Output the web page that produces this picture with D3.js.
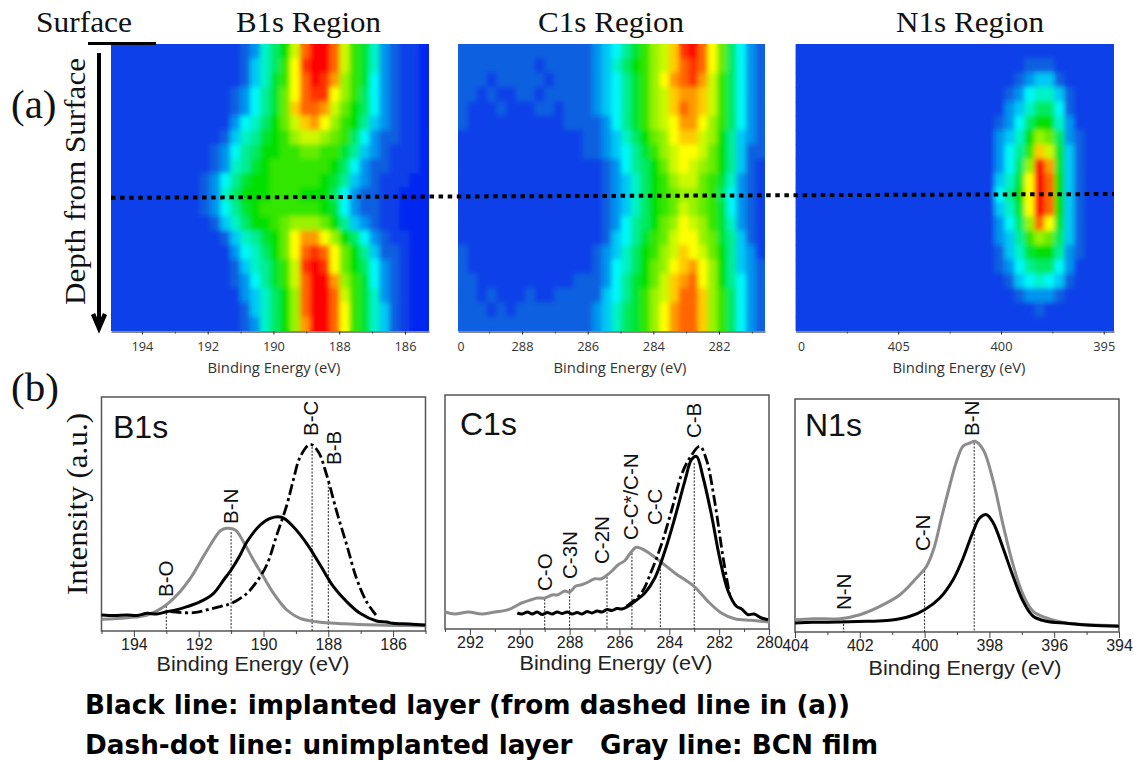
<!DOCTYPE html>
<html><head><meta charset="utf-8">
<style>html,body{margin:0;padding:0;background:#fff}svg{display:block}text{white-space:pre}</style>
<script src="https://cdn.jsdelivr.net/npm/d3@7"></script></head>
<body><svg id="c" width="1134" height="761"></svg>
<script>
// ---------- heatmap values (0 blue, 5 cyan, 10 green, 15 yellow, 20 red); rows run top to bottom
const heatB1s = [
[1,1,1,1,1,1,1,1,1,1,1,1,1,2,3,6,8,10,14,18,20,20,18,14,11,9,6,3,2,1,1,0],
[1,1,1,1,1,1,1,1,1,1,1,1,1,2,4,6,8,11,15,19,20,20,18,14,11,9,6,3,2,1,1,0],
[1,1,1,1,1,1,1,1,1,1,1,1,1,2,4,6,9,11,15,18,20,19,17,13,11,9,5,3,2,1,1,0],
[1,1,1,1,1,1,1,1,1,1,1,1,2,3,5,7,9,12,15,18,19,19,15,13,11,8,5,3,2,1,1,0],
[1,1,1,1,1,1,1,1,1,1,1,1,2,3,5,7,9,12,16,18,18,17,14,12,10,8,5,3,2,1,1,0],
[1,1,1,1,1,1,1,1,1,1,1,1,3,5,6,8,10,12,14,16,17,15,13,11,10,7,4,3,2,1,1,0],
[1,1,1,1,1,1,1,1,1,1,1,2,4,6,7,9,10,11,13,14,14,13,12,11,8,5,3,2,2,1,1,0],
[1,1,1,1,1,1,1,1,1,1,2,3,5,7,8,10,10,11,11,12,12,11,11,9,7,4,3,2,1,1,1,0],
[1,1,1,1,1,1,1,1,1,1,2,3,6,7,9,10,11,11,11,11,11,11,10,8,5,3,2,2,1,1,1,0],
[1,1,1,1,1,1,1,1,1,2,3,5,7,9,10,10,11,11,11,11,11,10,9,7,4,3,2,1,1,1,0,0],
[1,1,1,1,1,1,1,1,1,2,3,6,8,10,10,10,11,11,11,10,10,10,8,5,3,2,2,1,1,0,0,0],
[1,1,1,1,1,1,1,1,1,2,3,5,7,9,10,11,11,11,11,11,11,10,9,5,3,2,2,1,1,0,0,0],
[1,1,1,1,1,1,1,1,1,1,2,4,6,8,10,10,11,12,13,13,13,12,10,7,4,3,2,1,1,0,0,0],
[1,1,1,1,1,1,1,1,1,1,1,2,4,6,7,9,10,12,15,17,17,15,13,10,8,5,3,2,1,1,0,0],
[1,1,1,1,1,1,1,1,1,1,1,1,3,5,6,8,10,12,15,18,19,18,15,12,10,7,4,2,2,1,0,0],
[1,1,1,1,1,1,1,1,1,1,1,1,2,4,6,7,9,11,14,19,20,19,15,12,10,8,5,3,2,1,0,0],
[1,1,1,1,1,1,1,1,1,1,1,1,2,3,5,7,9,11,14,18,20,20,17,13,11,9,5,3,2,1,0,0],
[1,1,1,1,1,1,1,1,1,1,1,1,1,3,4,6,8,10,13,18,20,20,18,14,11,9,6,3,2,1,0,0],
[1,1,1,1,1,1,1,1,1,1,1,1,1,2,4,6,8,10,13,18,20,20,18,15,11,9,6,4,2,1,0,0],
[1,1,1,1,1,1,1,1,1,1,1,1,1,2,3,6,8,10,13,17,20,20,18,15,11,9,6,4,2,1,0,0]];
const heatC1s = [
[2,2,2,2,2,2,2,2,2,2,2,2,2,2,3,4,5,7,9,11,13,14,16,19,20,18,15,12,8,5,3,2],
[2,2,2,2,2,2,2,2,1,2,2,2,2,2,3,4,6,8,10,11,13,14,16,18,19,18,15,12,8,5,3,2],
[2,2,2,1,2,2,2,2,2,1,2,2,2,2,3,4,5,7,9,11,13,15,17,18,19,17,14,11,8,5,3,2],
[2,2,1,2,1,1,2,2,1,2,2,2,2,2,3,4,5,7,9,11,13,14,16,17,17,16,14,11,8,5,3,2],
[2,1,1,1,2,1,1,1,2,2,1,2,2,2,3,4,5,7,9,11,13,14,16,18,17,16,14,11,8,5,3,2],
[2,1,1,1,1,1,1,1,1,1,1,2,2,2,2,3,5,7,9,11,13,14,15,17,17,15,13,11,8,5,3,2],
[1,1,1,1,1,1,1,1,1,1,1,1,1,2,2,3,4,6,8,10,12,13,15,16,16,14,13,10,7,4,3,2],
[1,1,1,1,1,1,1,1,1,1,1,1,1,2,2,3,4,5,7,9,11,13,14,15,15,14,12,10,7,4,2,2],
[1,1,1,1,1,1,1,1,1,1,1,1,1,1,1,2,3,5,7,8,10,12,14,15,14,13,12,10,7,4,2,1],
[1,1,1,1,1,1,1,1,1,1,1,1,1,1,1,2,3,4,6,8,10,11,13,14,14,12,11,9,6,3,2,1],
[1,1,1,1,1,1,1,1,1,1,1,1,1,1,1,2,3,4,6,8,10,11,12,13,13,12,11,8,5,3,2,1],
[1,1,1,1,1,1,1,1,1,1,1,1,1,1,1,2,3,4,6,8,10,11,12,14,13,12,11,9,5,3,2,1],
[1,1,1,1,1,1,1,1,1,1,1,1,1,1,1,2,3,5,7,8,10,12,13,15,14,13,11,9,6,3,2,1],
[1,1,1,1,1,1,1,1,1,1,1,1,1,1,1,2,4,5,7,9,11,12,14,15,15,13,12,9,7,4,2,1],
[2,1,1,1,1,1,1,1,1,1,1,1,1,1,2,3,4,6,8,10,11,13,14,16,15,14,12,10,7,4,3,1],
[2,1,1,1,1,1,1,1,1,1,1,1,1,1,2,3,5,6,8,10,12,13,15,16,17,15,13,10,7,4,3,2],
[2,2,1,1,1,1,1,1,1,1,1,1,2,2,2,3,5,7,9,10,12,14,16,17,18,15,13,10,7,5,3,2],
[2,2,1,2,1,1,1,2,1,1,2,2,2,2,2,4,5,7,9,11,13,14,16,18,18,16,13,11,8,5,3,2],
[2,2,2,1,2,1,2,2,2,2,2,2,2,2,3,4,6,8,9,11,13,15,17,18,18,16,13,11,8,5,3,2],
[2,2,2,2,2,2,2,2,2,2,2,2,2,2,3,4,6,8,9,11,13,15,17,18,18,16,13,11,8,5,3,2]];
const heatN1s = [
[1,1,1,1,1,1,1,1,1,1,1,1,1,1,1,1,1,1,1,1,1,1,1,1,1,1,1,1,1,1,1,1],
[1,1,1,1,1,1,1,1,1,1,1,1,1,1,1,1,1,1,1,1,1,1,1,2,2,2,1,1,1,1,1,1],
[1,1,1,1,1,1,1,1,1,1,1,1,1,1,1,1,1,1,1,1,1,1,2,3,4,4,2,1,1,1,1,1],
[1,1,1,1,1,1,1,1,1,1,1,1,1,1,1,1,1,1,1,1,1,2,3,5,6,6,4,2,1,1,1,1],
[1,1,1,1,1,1,1,1,1,1,1,1,1,1,1,1,1,1,1,1,1,3,4,6,8,8,5,2,1,1,1,1],
[1,1,1,1,1,1,1,1,1,1,1,1,1,1,1,1,1,1,1,1,2,3,5,8,10,10,6,3,1,1,1,1],
[1,1,1,1,1,1,1,1,1,1,1,1,1,1,1,1,1,1,1,1,3,4,6,10,13,12,8,3,2,1,1,1],
[1,1,1,1,1,1,1,1,1,1,1,1,1,1,1,1,1,1,1,1,3,5,7,11,16,14,9,4,2,1,1,1],
[1,1,1,1,1,1,1,1,1,1,1,1,1,1,1,1,1,1,1,1,3,5,8,13,20,17,9,4,2,1,1,1],
[1,1,1,1,1,1,1,1,1,1,1,1,1,1,1,1,1,1,1,1,4,6,9,15,20,18,10,4,2,1,1,1],
[1,1,1,1,1,1,1,1,1,1,1,1,1,1,1,1,1,1,1,1,5,7,10,15,20,18,10,4,2,1,1,1],
[1,1,1,1,1,1,1,1,1,1,1,1,1,1,1,1,1,1,1,1,4,6,9,15,20,18,10,4,2,1,1,1],
[1,1,1,1,1,1,1,1,1,1,1,1,1,1,1,1,1,1,1,1,3,5,8,13,18,15,9,4,2,1,1,1],
[1,1,1,1,1,1,1,1,1,1,1,1,1,1,1,1,1,1,1,1,3,4,7,11,13,12,8,4,2,1,1,1],
[1,1,1,1,1,1,1,1,1,1,1,1,1,1,1,1,1,1,1,1,2,4,6,9,10,10,7,3,2,1,1,1],
[1,1,1,1,1,1,1,1,1,1,1,1,1,1,1,1,1,1,1,1,2,3,5,7,8,8,5,3,1,1,1,1],
[1,1,1,1,1,1,1,1,1,1,1,1,1,1,1,1,1,1,1,1,1,2,4,5,6,5,4,2,1,1,1,1],
[1,1,1,1,1,1,1,1,1,1,1,1,1,1,1,1,1,1,1,1,1,1,2,3,3,3,2,1,1,1,1,1],
[1,1,1,1,1,1,1,1,1,1,1,1,1,1,1,1,1,1,1,1,1,1,1,1,2,1,1,1,1,1,1,1],
[1,1,1,1,1,1,1,1,1,1,1,1,1,1,1,1,1,1,1,1,1,1,1,1,1,1,1,1,1,1,1,1]];
const heatLevels = [0,1,2,3,4,5,10,15,20];
const heatColorStops = ["#0028f0","#0840e8","#1060e0","#0094ee","#00c8f4","#00f8f8","#00e000","#ffff00","#ff0000"];

// ---------- spectra: binding energy (eV), intensity (a.u.)
const b1sBlackE = [195,194.6,194.21,193.9,193.59,193.3,192.98,192.7,192.36,191.95,191.54,191.23,191,190.72,190.51,190.1,189.79,189.44,189.08,188.67,188.25,187.84,187.43,187.02,186.51,186.2,186,185.5,185];
const b1sBlackI = [16,15.5,16,15.5,17.7,17,19.3,21,24.3,29.3,37.7,51,61,76,89.3,106,112.7,113.7,104.3,87.7,66,44.3,29.3,17.7,10,9,7.7,7,6];
const b1sGrayE = [195,194.21,193.59,193.08,192.67,192.26,191.95,191.64,191.33,191.13,190.87,190.62,190.31,190,189.69,189.28,188.87,188.36,187.54,186.51,185];
const b1sGrayI = [11.7,13.3,16,24.3,36,52.7,69.3,86,100.3,102.7,101,89.3,71,54.3,37.7,21,12.7,9.3,7.3,6,5.3];
const b1sDashE = [192.87,192.16,191.64,191.23,190.98,190.51,190.21,189.9,189.59,189.28,189.08,188.87,188.56,188.31,188.05,187.74,187.43,187.13,186.82,186.53];
const b1sDashI = [19.3,18.3,22,25.3,27.7,37.7,49.3,66,96,126,151,174,186.7,179.3,156,119.3,86,52.7,29.3,16];

const c1sBlackE = [290.1,289.9,289.7,289.5,289.3,289.1,288.9,288.7,288.5,288.3,288.1,287.9,287.7,287.5,287.3,287.1,286.9,286.7,286.5,286.3,286.1,285.9,285.7,285.38,284.98,284.58,284.18,283.78,283.38,283.11,282.91,282.64,282.31,281.98,281.64,281.31,281.1,280.84,280.6,280.3,280.04];
const c1sBlackI = [16,15,17,15,17,14.5,16.5,15,17,15.5,17,15,16.5,15,17.5,16,18,17,19.5,18.5,20.5,20,22,27.7,36,51,77.7,111,147.7,169.3,172.7,151,114.3,71,37.7,22.7,20,14.3,15,11,9.3];
const c1sGrayE = [293,292.6,292.06,291.53,291,290.46,289.93,289.53,289.3,288.99,288.7,288.46,288.2,287.99,287.75,287.52,287.25,286.99,286.75,286.51,286.3,286.05,285.8,285.56,285.32,284.98,284.37,283.78,283.01,282.45,281.91,281.38,280.71,280];
const c1sGrayI = [17,15,17,15,17,19.3,26,29.3,31,31,34,34.3,38,37,43,44.3,47,50.3,50,53.7,58,64.3,68,76,81.7,78.7,67.7,56,42.7,27.7,16,10.3,8.7,7];
const c1sDashE = [285.72,285.12,284.72,284.32,283.92,283.51,283.18,282.78,282.51,282.18,281.84,281.58];
const c1sDashI = [22.7,36,57.7,84.3,117.7,154.3,171,182.7,169.3,127.7,71,34.3];

const n1sBlackE = [404,403.43,402.61,401.79,401.07,400.45,400,399.53,399.12,398.81,398.5,398.3,398.09,397.88,397.58,397.27,396.96,396.65,396.24,395.62,394.9,394];
const n1sBlackI = [9,9.7,10,10.7,11.7,15.7,22.3,34,52.3,74,100.7,114,117.3,109,84,55.7,30.7,15.7,10.7,8.7,6.7,5.7];
const n1sGrayE = [404,403.43,402.61,402,401.38,400.76,400.25,399.94,399.71,399.48,399.22,399.02,398.81,398.6,398.45,398.19,397.88,397.58,397.27,396.96,396.65,396.24,395.62,394.9,394];
const n1sGrayI = [12.3,13.3,13.3,17.3,25.7,37.3,54,65.7,84,114,147,170,186,189,190.7,182.3,150.7,107.3,67.3,37.3,20.7,14,9,7.3,6.3];

// ---------- peak markers: label, energy, top of dotted line (intensity), label bottom (intensity)
const b1sPeakNames = ["B-O","B-N","B-C","B-B"];
const b1sPeakE = [193,191,188.5,188];
const b1sPeakTop = [25,99,184,148];
const b1sPeakLabelAt = [34,107,195,166];
const c1sPeakNames = ["C-O","C-3N","C-2N","C-C*/C-N","C-C","C-B"];
const c1sPeakE = [289,288,286.5,285.5,284.36,283];
const c1sPeakTop = [30,40,52,76,67,166];
const c1sPeakLabelAt = [38,50,65,89,104,191];
const n1sPeakNames = ["N-N","C-N","B-N"];
const n1sPeakE = [402.5,400,398.47];
const n1sPeakTop = [15,65,189];
const n1sPeakLabelAt = [22,81,196];

// ---------- tick labels
const heatB1sTicks = [194,192,190,188,186], heatB1sMinor = [193,191,189,187];
const heatC1sTicks = [288,286,284,282], heatC1sMinor = [289,287,285,283,281];
const heatN1sTicks = [405,400,395], heatN1sMinor = [407.5,402.5,397.5];
const b1sTicks = [194,192,190,188,186], b1sMinor = [195,193,191,189,187,185];
const c1sTicks = [292,290,288,286,284,282,280], c1sMinor = [293,291,289,287,285,283,281];
const n1sTicks = [404,402,400,398,396,394], n1sMinor = [403,401,399,397,395];

const SERIF = '"Liberation Serif",serif', SANS = '"Liberation Sans",Arial,sans-serif', UI = '"Open Sans",sans-serif';
const svg = d3.select("#c");
const defs = svg.append("defs");
defs.append("filter").attr("id","soft").attr("x","-5%").attr("y","-5%").attr("width","110%").attr("height","110%")
  .append("feGaussianBlur").attr("stdDeviation",2.4);
const heatColor = d3.scaleLinear().domain(heatLevels).range(heatColorStops).clamp(true);

function T(x,y,str,size,family,opt={}){
  const t = svg.append("text").attr("x",x).attr("y",y).text(str).attr("font-size",size).attr("font-family",family)
    .attr("fill",opt.fill||"#111").attr("text-anchor",opt.anchor||"start");
  if(opt.weight) t.attr("font-weight",opt.weight);
  if(opt.len) t.attr("textLength",opt.len).attr("lengthAdjust","spacingAndGlyphs");
  if(opt.rot) t.attr("transform",`rotate(${opt.rot} ${x} ${y})`);
  return t;
}

// ---------- part (a) heat maps
function heat(id,m,x0,x1,y0,y1,dom,ticks,minor,zeroDx,titleX){
  const col = d3.scaleBand().domain(d3.range(m[0].length)).range([x0,x1]);
  const row = d3.scaleBand().domain(d3.range(m.length)).range([y0,y1]);
  defs.append("clipPath").attr("id",id).append("rect").attr("x",x0).attr("y",y0).attr("width",x1-x0).attr("height",y1-y0);
  const g = svg.append("g").attr("clip-path",`url(#${id})`);
  const draw = p => m.forEach((r,ri)=>p.selectAll(null).data(r).join("rect")
      .attr("x",(d,i)=>col(i)).attr("y",row(ri)).attr("width",col.bandwidth()+.6).attr("height",row.bandwidth()+.6)
      .attr("fill",d=>heatColor(d)));
  draw(g.append("g"));
  draw(g.append("g").attr("filter","url(#soft)"));
  const x = d3.scaleLinear().domain(dom).range([x0,x1]);
  const ax = svg.append("g").attr("transform",`translate(0,${y1+.5})`)
    .call(d3.axisBottom(x).tickValues(ticks).tickSize(3).tickSizeOuter(0).tickFormat(d3.format("d")));
  ax.select("path").attr("stroke","#111");
  ax.selectAll("line").attr("stroke","#222");
  ax.selectAll("text").attr("font-family",UI).attr("font-size",13.5).attr("fill","#333").attr("y",19.5).attr("dy",0)
    .attr("textLength",22).attr("lengthAdjust","spacingAndGlyphs");
  const mn = svg.append("g").attr("transform",`translate(0,${y1+.5})`)
    .call(d3.axisBottom(x).tickValues(minor).tickSize(2).tickFormat(""));
  mn.select("path").remove(); mn.selectAll("line").attr("stroke","#444");
  if(zeroDx) T(x0+zeroDx,351,"0",13.5,UI,{fill:"#333",anchor:"middle",len:7});
  T(titleX,372.5,"Binding Energy (eV)",14,UI,{fill:"#333",anchor:"middle",len:133});
}
heat("h1",heatB1s,111,429,44,331,[194.94,185.27],heatB1sTicks,heatB1sMinor,0,274);
heat("h2",heatC1s,458,765,44,331,[289.95,280.6],heatC1sTicks,heatC1sMinor,3,620);
heat("h3",heatN1s,795.5,1114,44,331,[410,394.5],heatN1sTicks,heatN1sMinor,6,959);

// titles
T(36,32,"Surface",30,SERIF,{len:96});
T(308.5,32,"B1s Region",30,SERIF,{anchor:"middle",len:145});
T(611,32,"C1s Region",30,SERIF,{anchor:"middle",len:146});
T(970,32,"N1s Region",30,SERIF,{anchor:"middle",len:148});
T(11,118,"(a)",41,SERIF);
T(11,401,"(b)",41,SERIF);
T(85,305,"Depth from Surface",30,SERIF,{rot:-90,len:247});
T(87,595,"Intensity (a.u.)",29,SERIF,{rot:-90,len:182});

// surface bar and depth arrow
svg.append("line").attr("x1",88).attr("x2",156).attr("y1",43.5).attr("y2",43.5).attr("stroke","#000").attr("stroke-width",3);
svg.append("line").attr("x1",99).attr("x2",99).attr("y1",53).attr("y2",326).attr("stroke","#000").attr("stroke-width",4);
svg.append("path").attr("d","M93 314 L99 328 L105 314").attr("fill","none").attr("stroke","#000").attr("stroke-width",4.5);

// dotted cut line
svg.append("line").attr("x1",111).attr("y1",197.8).attr("x2",1114).attr("y2",194)
  .attr("stroke","#000").attr("stroke-width",4).attr("stroke-dasharray","4.5 4.6");

// ---------- part (b) spectra
function spectrum(cfg){
  const {x0,x1,y0,y1,dom,ticks,minor,black,gray,dash,peaks,name,nameX,nameY,titleX,titleY}=cfg;
  const x = d3.scaleLinear().domain(dom).range([x0,x1]);
  const y = d3.scaleLinear().domain([0,y1-y0]).range([y1,y0]);
  svg.append("rect").attr("x",x0).attr("y",y0).attr("width",x1-x0).attr("height",y1-y0)
    .attr("fill","none").attr("stroke","#555").attr("stroke-width",1.5);
  const ax = svg.append("g").attr("transform",`translate(0,${y1})`)
    .call(d3.axisBottom(x).tickValues(ticks).tickSize(6).tickSizeOuter(0).tickFormat(d3.format("d")));
  ax.select("path").remove();
  ax.selectAll("line").attr("stroke","#444");
  ax.selectAll("text").attr("font-family",SANS).attr("font-size",16).attr("fill","#222").attr("y",8);
  const mn = svg.append("g").attr("transform",`translate(0,${y1})`)
    .call(d3.axisBottom(x).tickValues(minor).tickSize(3).tickFormat(""));
  mn.select("path").remove(); mn.selectAll("line").attr("stroke","#444");
  const line = d3.line().x(d=>x(d[0])).y(d=>y(d[1])).curve(d3.curveCatmullRom.alpha(.5));
  const pts = (E,I)=>E.map((e,i)=>[e,I[i]]);
  peaks.names.forEach((n,i)=>{
    const px = x(peaks.e[i]);
    svg.append("line").attr("x1",px).attr("x2",px).attr("y1",y(peaks.top[i])).attr("y2",y1)
      .attr("stroke","#222").attr("stroke-width",1).attr("stroke-dasharray","2 1.5");
    T(px+cfg.labelDx[i],y(peaks.at[i]),n,20.5,SANS,{rot:-90,fill:"#111"});
  });
  svg.append("path").attr("d",line(pts(gray[0],gray[1]))).attr("fill","none").attr("stroke","#8c8c8c").attr("stroke-width",3);
  if(dash) svg.append("path").attr("d",line(pts(dash[0],dash[1]))).attr("fill","none").attr("stroke","#000").attr("stroke-width",2.8).attr("stroke-dasharray","11 3.5 3 3.5");
  svg.append("path").attr("d",line(pts(black[0],black[1]))).attr("fill","none").attr("stroke","#000").attr("stroke-width",3);
  T(nameX,nameY,name,32,SANS);
  T(titleX,titleY,"Binding Energy (eV)",21,SANS,{anchor:"middle",fill:"#222",len:193});
}
spectrum({x0:101.5,x1:425.5,y0:397,y1:631,dom:[195,185],ticks:b1sTicks,minor:b1sMinor,
  black:[b1sBlackE,b1sBlackI],gray:[b1sGrayE,b1sGrayI],dash:[b1sDashE,b1sDashI],
  peaks:{names:b1sPeakNames,e:b1sPeakE,top:b1sPeakTop,at:b1sPeakLabelAt},labelDx:[7,7,6,13],
  name:"B1s",nameX:113,nameY:438,titleX:253,titleY:671});
spectrum({x0:445,x1:769,y0:395,y1:629,dom:[293,280],ticks:c1sTicks,minor:c1sMinor,
  black:[c1sBlackE,c1sBlackI],gray:[c1sGrayE,c1sGrayI],dash:[c1sDashE,c1sDashI],
  peaks:{names:c1sPeakNames,e:c1sPeakE,top:c1sPeakTop,at:c1sPeakLabelAt},labelDx:[7,7,2,6,2,7],
  name:"C1s",nameX:460,nameY:435,titleX:616,titleY:670});
spectrum({x0:795,x1:1119,y0:399,y1:632,dom:[404,394],ticks:n1sTicks,minor:n1sMinor,
  black:[n1sBlackE,n1sBlackI],gray:[n1sGrayE,n1sGrayI],
  peaks:{names:n1sPeakNames,e:n1sPeakE,top:n1sPeakTop,at:n1sPeakLabelAt},labelDx:[7,5,5],
  name:"N1s",nameX:805,nameY:436,titleX:965,titleY:675});

// bottom captions
const CAP = '"DejaVu Sans",sans-serif';
T(85,714,"Black line: implanted layer (from dashed line in (a))",26,CAP,{weight:700,fill:"#000",len:765});
T(85,754,"Dash-dot line: unimplanted layer   Gray line: BCN film",26,CAP,{weight:700,fill:"#000",len:793});
</script></body></html>
